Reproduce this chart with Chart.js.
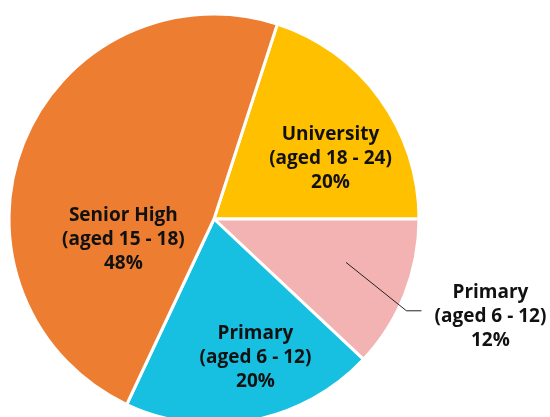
<!DOCTYPE html>
<html>
<head>
<meta charset="utf-8">
<script src="https://cdn.jsdelivr.net/npm/chart.js@4.4.0/dist/chart.umd.min.js"></script>
<style>
  html, body { margin: 0; padding: 0; background: #fff; overflow: hidden; }
  #wrap { width: 550px; height: 417px; position: relative; }
</style>
</head>
<body>
<div id="wrap"><canvas id="pieChart"></canvas></div>
<script>
// --- DATA ---
const categories = ['University', 'Primary', 'Primary', 'Senior High'];
const ageRanges = ['(aged 18 - 24)', '(aged 6 - 12)', '(aged 6 - 12)', '(aged 15 - 18)'];
const shares = [20, 12, 20, 48];
const sliceColors = ['#FFC000', '#F4B3B3', '#17C0E0', '#ED7D31'];

// label placement relative to each slice: angle offset from mid angle (deg), fraction of radius
const labelSpots = [
    { dAngle: 8.6, frac: 0.64 },
    { dAngle: -3.4, frac: 0.678, leader: { dAngle: 3.9, frac: 1.04, run: 15, textDx: 84, textDy: 6 } },
    { dAngle: -5.8, frac: 0.708 },
    { dAngle: -34.1, frac: 0.453 }
];

const FONT = 'bold 19px "Open Sans", sans-serif';
const LINE_H = 24;

// draws the three-line labels (and the leader line for the small slice)
const sliceLabels = {
    id: 'sliceLabels',
    afterDatasetsDraw(chart) {
        const ctx = chart.ctx;
        const arcs = chart.getDatasetMeta(0).data;
        ctx.save();
        ctx.font = FONT;
        ctx.fillStyle = '#111';
        ctx.textAlign = 'center';
        ctx.textBaseline = 'middle';

        arcs.forEach((arc, i) => {
            const spot = labelSpots[i];
            const mid = (arc.startAngle + arc.endAngle) / 2;
            const toPoint = (dAng, frac) => {
                const a = mid + dAng * Math.PI / 180;
                return { x: arc.x + Math.cos(a) * arc.outerRadius * frac, y: arc.y + Math.sin(a) * arc.outerRadius * frac };
            };
            let p = toPoint(spot.dAngle, spot.frac);

            if (spot.leader) {
                const elbow = toPoint(spot.leader.dAngle, spot.leader.frac);
                ctx.beginPath();
                ctx.strokeStyle = '#222';
                ctx.lineWidth = 1;
                ctx.moveTo(p.x, p.y);
                ctx.lineTo(elbow.x, elbow.y);
                ctx.lineTo(elbow.x + spot.leader.run, elbow.y);
                ctx.stroke();
                p = { x: elbow.x + spot.leader.textDx, y: elbow.y + spot.leader.textDy };
            }

            const lines = [categories[i], ageRanges[i], shares[i] + '%'];
            lines.forEach((txt, k) => ctx.fillText(txt, p.x, p.y + (k - 1) * LINE_H));
        });
        ctx.restore();
    }
};

new Chart(document.getElementById('pieChart'), {
    type: 'pie',
    data: {
        labels: categories,
        datasets: [{
            data: shares,
            backgroundColor: sliceColors,
            borderColor: '#ffffff',
            borderWidth: 3,
            radius: 205,
            clip: false
        }]
    },
    options: {
        responsive: true,
        maintainAspectRatio: false,
        animation: false,
        rotation: 18,
        layout: { padding: { left: 0, right: 122, top: 21, bottom: 0 } },
        plugins: { legend: { display: false }, tooltip: { enabled: false } }
    },
    plugins: [sliceLabels]
});
</script>
</body>
</html>
